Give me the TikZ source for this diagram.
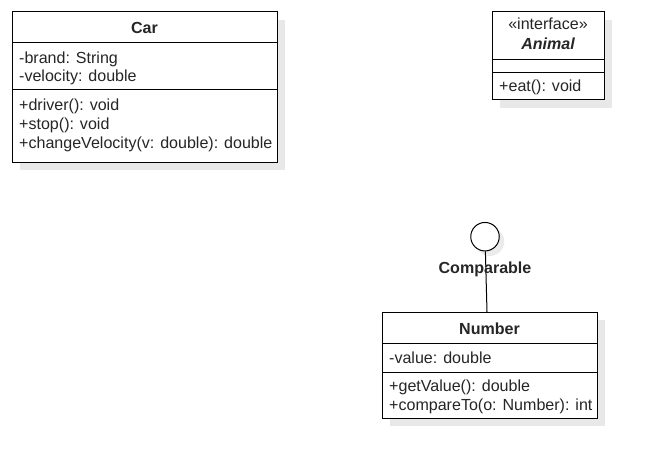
\documentclass[tikz,border=0pt]{standalone}
\usepackage{fontspec}
\setmainfont{Liberation Sans}
\usetikzlibrary{shadows}
\begin{document}
\begin{tikzpicture}[x=1pt,y=-1pt,
  box/.style={draw=black,line width=1pt,fill=white,inner sep=0pt,outer sep=0pt,
    drop shadow={shadow xshift=8pt,shadow yshift=-8pt,fill=black!9,opacity=1}},
  divider/.style={draw=black,line width=1pt},
  txt/.style={anchor=base west,inner sep=0pt,font=\fontsize{16.05}{18}\selectfont,text=black!85},
  ttl/.style={anchor=base,inner sep=0pt,font=\fontsize{16.05}{18}\selectfont\bfseries,text=black!85},
  lolli/.style={draw=black,line width=1pt,fill=white,circle,inner sep=0pt,minimum size=28.5pt,
    drop shadow={shadow xshift=5pt,shadow yshift=-5pt,fill=black!8,opacity=1}},
]
\useasboundingbox (0,0) rectangle (653,468);

% Car
\node[box,minimum width=265pt,minimum height=150pt] (car) at (144.5,87) {};
\draw[divider] (car.west |- 0,43) -- (car.east |- 0,43);
\draw[divider] (car.west |- 0,90) -- (car.east |- 0,90);
\node[ttl] (cartitle) at (144.5,34) {Car};
\node[txt] (carA1) at (19,64) {-brand: String};
\node[txt] (carA2) at (19,82) {-velocity: double};
\node[txt] (carM1) at (19,111) {+driver(): void};
\node[txt] (carM2) at (19,129.5) {+stop(): void};
\node[txt] (carM3) at (19,148) {+changeVelocity(v: double): double};

% Animal
\node[box,minimum width=112pt,minimum height=88pt] (animal) at (548,56) {};
\draw[divider] (animal.west |- 0,60) -- (animal.east |- 0,60);
\draw[divider] (animal.west |- 0,73) -- (animal.east |- 0,73);
\node[anchor=base,inner sep=0pt,font=\fontsize{16.05}{18}\selectfont,text=black!85] (animalst) at (548,30) {«interface»};
\node[ttl,font=\fontsize{16.05}{18}\selectfont\bfseries\itshape] (animaltitle) at (548,49.5) {Animal};
\node[txt] (animalM1) at (499,91.5) {+eat(): void};

% Number
\node[box,minimum width=215pt,minimum height=106pt] (number) at (489.5,365) {};
\draw[divider] (number.west |- 0,343) -- (number.east |- 0,343);
\draw[divider] (number.west |- 0,372) -- (number.east |- 0,372);
\node[ttl] (numtitle) at (489.5,334) {Number};
\node[txt] (numA1) at (389,363.5) {-value: double};
\node[txt] (numM1) at (389,391.5) {+getValue(): double};
\node[txt] (numM2) at (389,410) {+compareTo(o: Number): int};

% Comparable lollipop
\node[lolli] (comp) at (485,236.7) {};
\coordinate (numtop) at (487,312);
\draw[line width=1pt] (comp) -- (numtop);
\node[ttl] (complbl) at (485,273.3) {Comparable};
\end{tikzpicture}
\end{document}
